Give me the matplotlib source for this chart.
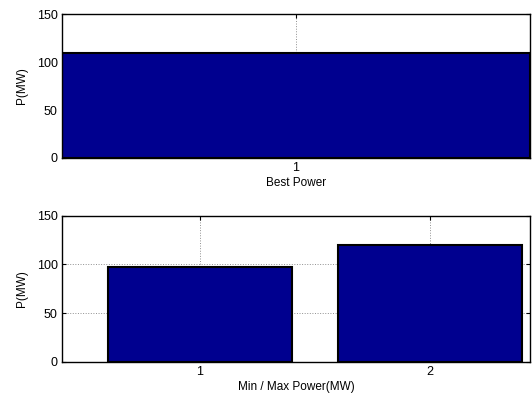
import matplotlib
matplotlib.use("Agg")
import matplotlib.pyplot as plt

plt.rcParams['font.family'] = ['Liberation Sans', 'DejaVu Sans']

best_x = [1]
best_power = [109]
minmax_x = [1, 2]
minmax_power = [97, 120]
yticks = [0, 50, 100, 150]

fig = plt.figure(figsize=(5.32, 4.01), dpi=100)
ax1 = fig.add_axes([0.1165, 0.606, 0.8797, 0.359])
ax2 = fig.add_axes([0.1165, 0.098, 0.8797, 0.364])

barcolor = '#00008F'

def style(ax):
    ax.set_ylim(0, 150)
    ax.set_yticks(yticks)
    ax.grid(True, color='#909090', linestyle=':', linewidth=0.7)
    ax.set_axisbelow(True)
    ax.tick_params(direction='in', top=True, right=True, labelsize=9, length=3, width=0.8, pad=3)
    for s in ax.spines.values():
        s.set_linewidth(1.0)
        s.set_zorder(5)
    ax.set_ylabel('P(MW)', fontsize=8.5, labelpad=6)

ax1.bar(best_x, best_power, width=0.8, color=barcolor, edgecolor='black', linewidth=1.5, zorder=2)
ax1.set_xlim(0.6, 1.4)
ax1.set_xticks(best_x)
style(ax1)
ax1.set_xlabel('Best Power', fontsize=8.5, labelpad=2)

ax2.bar(minmax_x, minmax_power, width=0.8, color=barcolor, edgecolor='black', linewidth=1.5, zorder=2)
ax2.set_xlim(0.4, 2.435)
ax2.set_xticks(minmax_x)
style(ax2)
ax2.set_xlabel('Min / Max Power(MW)', fontsize=8.5, labelpad=2)

fig.savefig('out.png', dpi=100)
